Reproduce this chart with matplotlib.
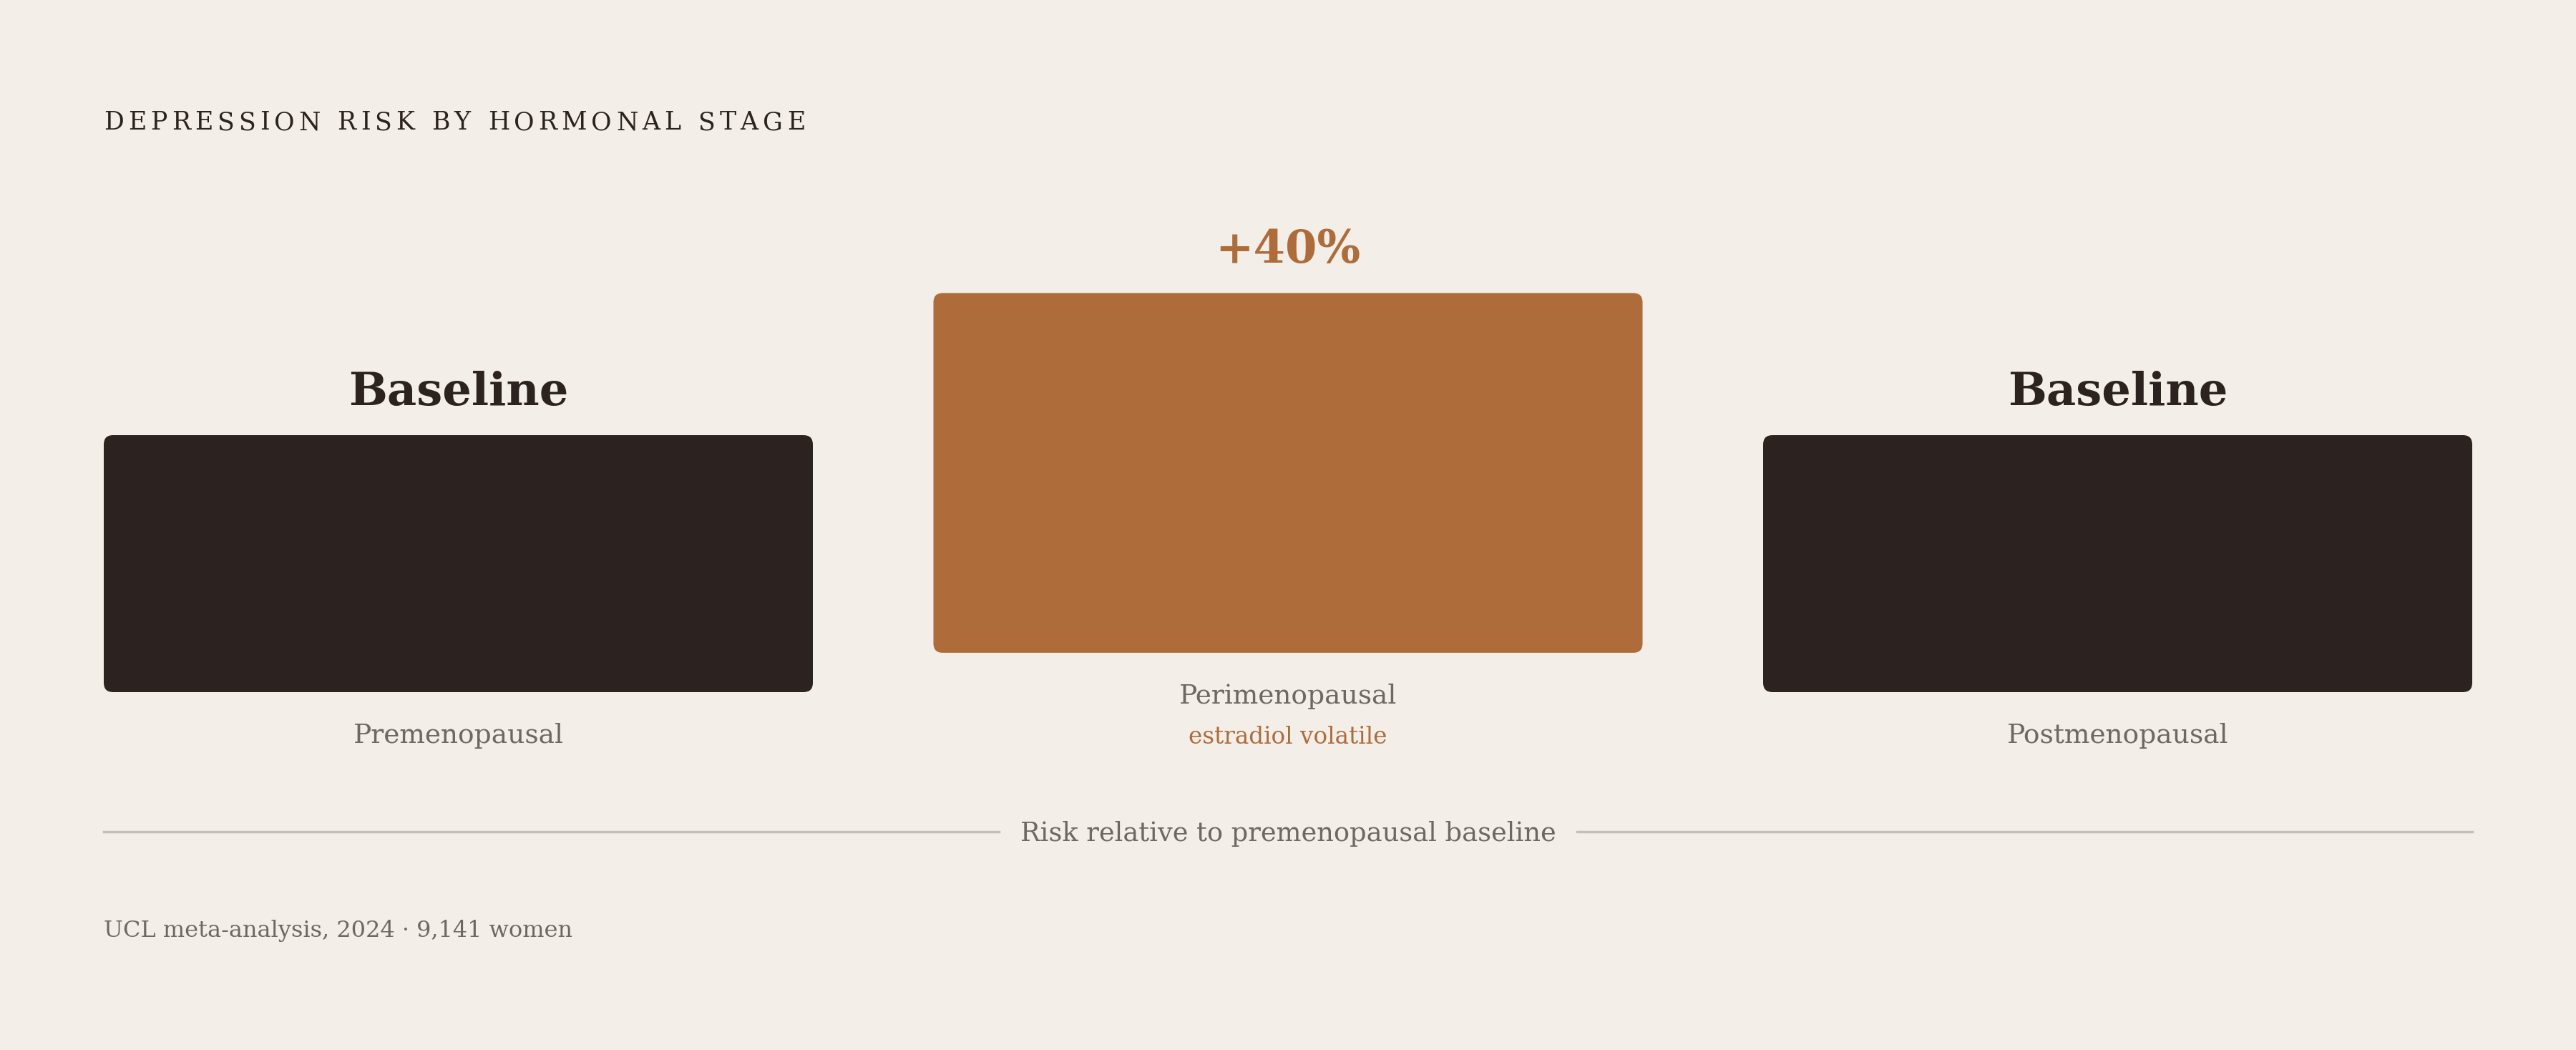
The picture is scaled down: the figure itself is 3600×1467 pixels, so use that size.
import matplotlib
matplotlib.use('Agg')
import matplotlib.pyplot as plt
from matplotlib.patches import FancyBboxPatch

plt.rcParams['font.family'] = ['DejaVu Serif']

# data
stages = ['Premenopausal', 'Perimenopausal', 'Postmenopausal']
relative_risk = [1.0, 1.4, 1.0]
value_labels = ['Baseline', '+40%', 'Baseline']
notes = ['', 'estradiol volatile', '']
highlight = [False, True, False]

title = 'DEPRESSION RISK BY HORMONAL STAGE'
axis_note = 'Risk relative to premenopausal baseline'
source = 'UCL meta-analysis, 2024 \u00b7 9,141 women'

BG = '#F3EEE8'
DARK = '#2C2320'
ORANGE = '#AE6C3B'
GREY = '#6E6862'
RULE = '#C5BFB8'

W, H = 3600, 1467
fig = plt.figure(figsize=(W / 100, H / 100), dpi=100, facecolor=BG)
ax = fig.add_axes([0, 0, 1, 1])
ax.set_xlim(0, W)
ax.set_ylim(H, 0)
ax.axis('off')
ax.set_facecolor(BG)

renderer = fig.canvas.get_renderer()
inv = ax.transData.inverted()

# title, letter-spaced by hand (one text per character)
left, right_title = 145, 1125
chars = [ax.text(0, 181, ch, fontsize=25, color=DARK, va='baseline', ha='left')
         for ch in title]
widths = [t.get_window_extent(renderer).width if ch != ' ' else 12
          for t, ch in zip(chars, title)]
track = (right_title - left - sum(widths)) / (len(chars) - 1)
x = left
for t, w in zip(chars, widths):
    t.set_x(x)
    x += w + track

# bars
bar_w = 991
gap = (W - 2 * left - 3 * bar_w) / 2
unit = 359
base_bottom = 967
line_h = 55
for i, (stage, v) in enumerate(zip(stages, relative_risk)):
    x0 = left + i * (bar_w + gap)
    bottom = base_bottom - (line_h if notes[i] else 0)
    h = v * unit
    top = bottom - h
    col = ORANGE if highlight[i] else DARK
    ax.add_patch(FancyBboxPatch((x0, top), bar_w, h,
                                boxstyle='round,pad=0,rounding_size=13',
                                fc=col, ec='none'))
    cx = x0 + bar_w / 2
    ax.text(cx, top - 42, value_labels[i], ha='center', va='baseline',
            fontsize=46, fontweight='bold', color=col)
    ax.text(cx, bottom + 71, stage, ha='center', va='baseline',
            fontsize=27, color=GREY)
    if notes[i]:
        ax.text(cx, bottom + 72 + line_h, notes[i], ha='center', va='baseline',
                fontsize=23.5, color=ORANGE)

# divider with caption
cap = ax.text(W / 2, 1175, axis_note, ha='center', va='baseline',
              fontsize=26.5, color=GREY)
bb = cap.get_window_extent(renderer)
x_l = inv.transform((bb.x0, 0))[0]
x_r = inv.transform((bb.x1, 0))[0]
ax.plot([left, x_l - 30], [1162, 1162], color=RULE, lw=2.5)
ax.plot([x_r + 30, W - left], [1162, 1162], color=RULE, lw=2.5)

ax.text(left, 1309, source, ha='left', va='baseline', fontsize=23, color=GREY)

fig.savefig('out.png', dpi=100, facecolor=BG)
